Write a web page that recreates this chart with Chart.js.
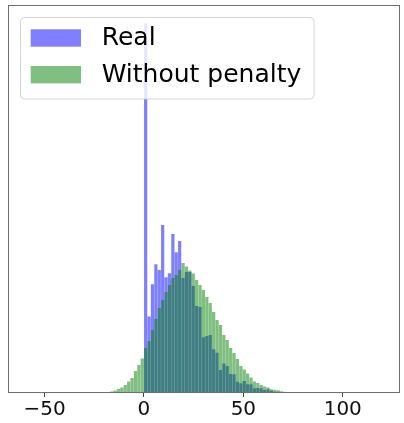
<!DOCTYPE html>
<html><head><meta charset="utf-8">
<script src="https://cdn.jsdelivr.net/npm/chart.js@4/dist/chart.umd.min.js"></script>
<style>html,body{margin:0;padding:0;background:#fff}canvas{display:block}</style>
</head><body>
<canvas id="c" width="404" height="423"></canvas>
<script>
// Histogram bins (shared by both series)
const binWidth = 1.71;
const firstEdge = -22.23;

// Counts per bin (arbitrary units)
const realCounts = [
  0,0,0,0,0,0,0,0,0,0,0,0,0,
  3695,765,1087,1287,1230,1680,1157,1197,1590,1407,1520,1150,1210,1210,1070,870,860,557,570,580,
  437,403,230,295,270,190,187,113,97,120,87,87,47,50,47,30,37,23,13,13,10,7,5,3,2,1,0,0,0
];
const noPenaltyCounts = [
  3,6,9,15,25,40,55,80,115,150,220,280,345,
  450,520,630,740,850,930,1010,1080,1150,1180,1230,1300,1265,1225,1195,1130,1080,1030,960,900,810,
  730,680,580,530,450,400,340,270,235,195,155,115,100,80,65,55,37,32,27,17,11,6,4,3,2.5,2,1,1
];

const seriesLabels = ['Real', 'Without penalty'];
const seriesColors = ['rgba(0,0,255,0.5)', 'rgba(0,128,0,0.5)'];
const xTicks = [-50, 0, 50, 100];
const xRange = [-68.4, 128.8];

const centers = realCounts.map((_, i) => firstEdge + (i + 0.5) * binWidth);
const toPoints = arr => arr.map((v, i) => ({ x: centers[i], y: v }));
const maxCount = Math.max(...realCounts, ...noPenaltyCounts);

const framePlugin = {
  id: 'frame',
  afterDatasetsDraw(chart) {
    const { ctx, chartArea: a } = chart;
    ctx.save();
    ctx.strokeStyle = '#6e6e6e';
    ctx.lineWidth = 1;
    ctx.strokeRect(Math.round(a.left) + 0.5, Math.round(a.top) + 0.5,
                   Math.round(a.right - a.left) - 1, Math.round(a.bottom - a.top) - 1);
    ctx.restore();
  }
};

const legendPlugin = {
  id: 'legendBox',
  afterDraw(chart) {
    const ctx = chart.ctx;
    ctx.save();
    const x = 20.5, y = 17.5, w = 293.5, h = 81.5, r = 4;
    ctx.beginPath();
    if (ctx.roundRect) ctx.roundRect(x, y, w, h, r); else ctx.rect(x, y, w, h);
    ctx.fillStyle = 'rgba(255,255,255,0.8)';
    ctx.fill();
    ctx.strokeStyle = 'rgba(204,204,204,0.8)';
    ctx.lineWidth = 1;
    ctx.stroke();
    chart.data.datasets.forEach((ds, i) => {
      const cy = 38 + i * 36.7;
      ctx.fillStyle = ds.backgroundColor;
      ctx.fillRect(30.7, cy - 8.7, 50.3, 17.4);
      ctx.fillStyle = '#000';
      ctx.font = '25px "DejaVu Sans"';
      ctx.textBaseline = 'middle';
      ctx.textAlign = 'left';
      ctx.fillText(ds.label, 101.7, cy + 0.5);
    });
    ctx.restore();
  }
};

new Chart(document.getElementById('c'), {
  type: 'bar',
  data: {
    datasets: [
      { label: seriesLabels[0], data: toPoints(realCounts), backgroundColor: seriesColors[0], order: 2 },
      { label: seriesLabels[1], data: toPoints(noPenaltyCounts), backgroundColor: seriesColors[1], order: 1 }
    ]
  },
  options: {
    responsive: false,
    animation: false,
    devicePixelRatio: 1,
    layout: { padding: { left: 8, right: 4, top: 5, bottom: 0 } },
    datasets: { bar: { grouped: false, barPercentage: 0.95, categoryPercentage: 1, borderWidth: 0 } },
    plugins: { legend: { display: false }, tooltip: { enabled: false } },
    scales: {
      x: {
        type: 'linear',
        min: xRange[0],
        max: xRange[1],
        offset: false,
        grid: { display: true, offset: false, drawOnChartArea: false, drawTicks: true, tickLength: 4, tickColor: '#444', tickWidth: 1 },
        border: { display: false },
        ticks: {
          font: { family: 'DejaVu Sans', size: 20 },
          color: '#111',
          padding: 1,
          maxRotation: 0,
          callback: v => (v < 0 ? '\u2212' + Math.abs(v) : String(v))
        },
        afterBuildTicks: s => { s.ticks = xTicks.map(v => ({ value: v })); },
        afterFit: s => { s.height = 30; }
      },
      y: { display: false, min: 0, max: maxCount * 1.05 }
    }
  },
  plugins: [framePlugin, legendPlugin]
});
</script>
</body></html>
